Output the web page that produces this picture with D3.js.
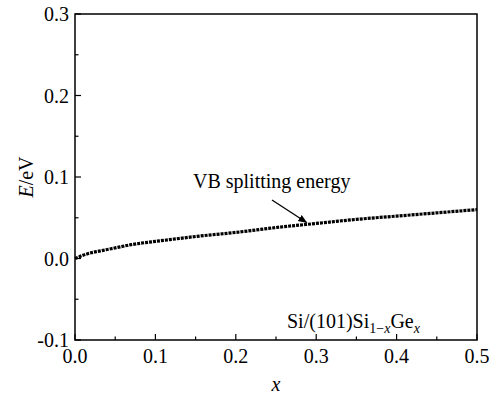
<!DOCTYPE html>
<html>
<head>
<meta charset="utf-8">
<script src="https://cdn.jsdelivr.net/npm/d3@7"></script>
</head>
<body style="margin:0;background:#fff">
<div id="chart"></div>
<script>
// VB splitting energy vs Ge fraction x
const xValues = [0, 0.005, 0.01, 0.02, 0.03, 0.04, 0.05, 0.07, 0.1, 0.125, 0.15, 0.2, 0.25, 0.3, 0.35, 0.4, 0.45, 0.5];
const eValues = [0.0, 0.002, 0.004, 0.007, 0.009, 0.011, 0.013, 0.017, 0.021, 0.024, 0.027, 0.032, 0.038, 0.043, 0.048, 0.052, 0.056, 0.060];
const xTicks = [0, 0.1, 0.2, 0.3, 0.4, 0.5];
const yTicks = [-0.1, 0, 0.1, 0.2, 0.3];

const width = 497, height = 398;
const margin = {top: 14, left: 75, bottom: 58, right: 20};
const innerW = width - margin.left - margin.right;
const innerH = height - margin.top - margin.bottom;
const serif = "Liberation Serif";

const svg = d3.select('#chart').append('svg')
    .attr('width', width)
    .attr('height', height);

const x = d3.scaleLinear().domain([0, 0.5]).range([margin.left, margin.left + innerW]);
const y = d3.scaleLinear().domain([-0.1, 0.3]).range([margin.top + innerH, margin.top]);

// frame
svg.append('rect')
    .attr('x', margin.left).attr('y', margin.top)
    .attr('width', innerW).attr('height', innerH)
    .attr('fill', 'none').attr('stroke', '#000').attr('stroke-width', 1.5);

// ticks pointing inward
const xAxis = svg.append('g').attr('transform', `translate(0,${margin.top + innerH})`);
xAxis.selectAll('line.major').data(xTicks).join('line')
    .attr('x1', d => x(d)).attr('x2', d => x(d))
    .attr('y1', 0).attr('y2', -6)
    .attr('stroke', '#000').attr('stroke-width', 1.2);
xAxis.selectAll('line.minor').data(d3.range(0.05, 0.5, 0.1)).join('line')
    .attr('x1', d => x(d)).attr('x2', d => x(d))
    .attr('y1', 0).attr('y2', -3.5)
    .attr('stroke', '#000').attr('stroke-width', 1.2);
xAxis.selectAll('text').data(xTicks).join('text')
    .attr('x', d => x(d)).attr('y', 23)
    .attr('text-anchor', 'middle')
    .attr('font-family', serif).attr('font-size', 20)
    .text(d => d.toFixed(1));

const yAxis = svg.append('g').attr('transform', `translate(${margin.left},0)`);
yAxis.selectAll('line.major').data(yTicks).join('line')
    .attr('y1', d => y(d)).attr('y2', d => y(d))
    .attr('x1', 0).attr('x2', 6)
    .attr('stroke', '#000').attr('stroke-width', 1.2);
yAxis.selectAll('line.minor').data([-0.05, 0.05, 0.15, 0.25]).join('line')
    .attr('y1', d => y(d)).attr('y2', d => y(d))
    .attr('x1', 0).attr('x2', 3.5)
    .attr('stroke', '#000').attr('stroke-width', 1.2);
yAxis.selectAll('text').data(yTicks).join('text')
    .attr('x', -6).attr('y', d => y(d) + 7)
    .attr('text-anchor', 'end')
    .attr('font-family', serif).attr('font-size', 20)
    .text(d => d.toFixed(1));

// axis titles
svg.append('text')
    .attr('x', x(0.25)).attr('y', 391)
    .attr('text-anchor', 'middle')
    .attr('font-family', serif).attr('font-size', 20).attr('font-style', 'italic')
    .text('x');

const yt = svg.append('text')
    .attr('transform', `translate(33,${y(0.1)}) rotate(-90)`)
    .attr('text-anchor', 'middle')
    .attr('font-family', serif).attr('font-size', 20);
yt.append('tspan').attr('font-style', 'italic').text('E');
yt.append('tspan').text('/eV');

// the curve
const line = d3.line()
    .x((d, i) => x(xValues[i]))
    .y(d => y(d))
    .curve(d3.curveMonotoneX);
svg.append('path')
    .datum(eValues)
    .attr('d', line)
    .attr('fill', 'none')
    .attr('stroke', '#000')
    .attr('stroke-width', 3.2)
    .attr('stroke-dasharray', '3,1');

// annotation with arrow
svg.append('defs').append('marker')
    .attr('id', 'arr')
    .attr('viewBox', '0 0 10 10')
    .attr('refX', 9).attr('refY', 5)
    .attr('markerWidth', 7).attr('markerHeight', 7)
    .attr('orient', 'auto')
    .append('path').attr('d', 'M0,1 L10,5 L0,9 Z').attr('fill', '#000');

svg.append('text')
    .attr('x', 193).attr('y', 188)
    .attr('font-family', serif).attr('font-size', 20)
    .text('VB splitting energy');
svg.append('line')
    .attr('x1', 272).attr('y1', 200)
    .attr('x2', x(0.288)).attr('y2', y(0.043) - 1)
    .attr('stroke', '#000').attr('stroke-width', 1.3)
    .attr('marker-end', 'url(#arr)');

// material label
const lab = svg.append('text')
    .attr('x', 287).attr('y', 328)
    .attr('font-family', serif).attr('font-size', 20);
lab.append('tspan').text('Si/(101)Si');
lab.append('tspan').attr('dy', 5).attr('font-size', 14).text('1−');
lab.append('tspan').attr('font-size', 14).attr('font-style', 'italic').text('x');
lab.append('tspan').attr('dy', -5).text('Ge');
lab.append('tspan').attr('dy', 5).attr('font-size', 14).attr('font-style', 'italic').text('x');
</script>
</body>
</html>
